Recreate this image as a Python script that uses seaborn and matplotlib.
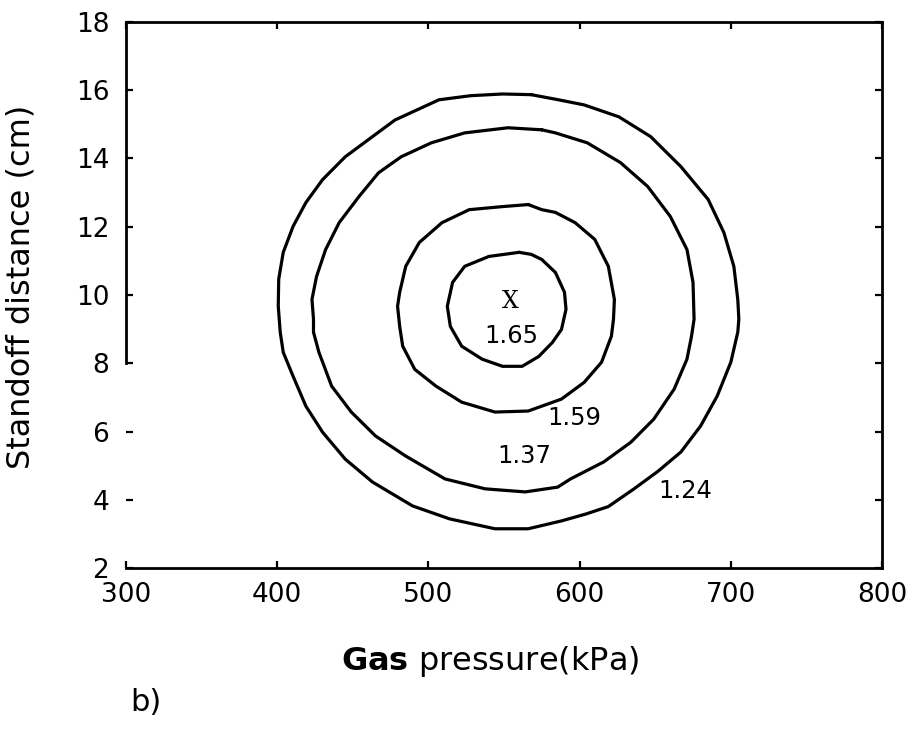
import numpy as np
import pandas as pd
import matplotlib
matplotlib.use("Agg")
import matplotlib.pyplot as plt
import seaborn as sns

# Iso-lines of the response over gas pressure (kPa) and standoff distance (cm)
levels = ["1.24", "1.37", "1.59", "1.65"]

p_124 = [568, 549, 528, 507, 478, 463, 445, 430, 419, 410.5, 404, 401, 400.7, 402, 404,
         410.5, 419, 430, 445, 463, 489.5, 514, 544, 566, 588, 604, 619, 636, 652, 667,
         680, 691, 700, 704.6, 705.3, 704.6, 702, 695.4, 685, 667, 647, 626, 603, 586]
d_124 = [15.87, 15.89, 15.84, 15.72, 15.13, 14.64, 14.05, 13.38, 12.71, 12.01, 11.25,
         10.46, 9.67, 8.91, 8.32, 7.62, 6.74, 5.98, 5.19, 4.52, 3.82, 3.44, 3.15, 3.15,
         3.38, 3.58, 3.80, 4.32, 4.84, 5.40, 6.16, 7.04, 8.03, 8.91, 9.29, 9.87, 10.84,
         11.83, 12.80, 13.76, 14.64, 15.22, 15.57, 15.72]

p_137 = [575, 552.6, 524, 502, 482, 467, 454, 441, 432, 426, 423, 424, 424, 427.6,
         436, 449, 465, 485, 511, 537.5, 564, 585.5, 594, 616, 634, 649, 662.5, 671,
         674, 675.7, 675, 671, 660, 645, 627, 605, 584]
d_137 = [14.84, 14.90, 14.75, 14.46, 14.05, 13.58, 12.88, 12.12, 11.33, 10.54, 9.87,
         9.29, 8.91, 8.32, 7.33, 6.57, 5.87, 5.28, 4.61, 4.32, 4.23, 4.37, 4.61, 5.11,
         5.69, 6.36, 7.24, 8.12, 8.79, 9.29, 10.37, 11.33, 12.30, 13.18, 13.88, 14.46,
         14.75]

p_159 = [566, 549, 527, 509, 494, 485, 481, 479.6, 481, 483, 491, 505, 522, 544, 566,
         588, 603, 614.5, 621, 622.4, 623, 619, 610, 597, 584, 575]
d_159 = [12.65, 12.59, 12.50, 12.12, 11.54, 10.84, 10.08, 9.67, 9.08, 8.50, 7.82, 7.33,
         6.86, 6.57, 6.60, 6.95, 7.44, 8.03, 8.79, 9.29, 9.87, 10.84, 11.63, 12.12,
         12.42, 12.50]

p_165 = [560, 540, 524, 516, 512.5, 514.5, 522, 535.5, 549, 562, 573, 582, 588, 591,
         590, 584, 575, 568]
d_165 = [11.25, 11.13, 10.84, 10.37, 9.67, 9.08, 8.50, 8.12, 7.91, 7.91, 8.20, 8.61,
         8.99, 9.58, 10.08, 10.66, 11.04, 11.19]

# Where each level value is written
label_p = [669.7, 563.6, 596.5, 554.6]
label_d = [4.27, 5.29, 6.41, 8.79]

# Optimum point
opt_p = 554
opt_d = 9.8

x_ticks = [300, 400, 500, 600, 700, 800]
y_ticks = [2, 4, 6, 8, 10, 12, 14, 16, 18]

curves = {"1.24": (p_124, d_124), "1.37": (p_137, d_137),
          "1.59": (p_159, d_159), "1.65": (p_165, d_165)}
rows = []
for lev in levels:
    ps, ds = curves[lev]
    ps = list(ps) + [ps[0]]
    ds = list(ds) + [ds[0]]
    for i, (p, d) in enumerate(zip(ps, ds)):
        rows.append({"pressure": p, "distance": d, "level": lev, "step": i})
df = pd.DataFrame(rows)

sns.set_theme(style="white")
plt.rcParams["font.family"] = ["DejaVu Sans"]
plt.rcParams["mathtext.fontset"] = "dejavusans"

fig = plt.figure(figsize=(9.11, 7.30), dpi=100)
ax = fig.add_axes([0.1383, 0.2219, 0.8299, 0.7480])

sns.lineplot(data=df, x="pressure", y="distance", units="level", estimator=None,
             sort=False, color="black", linewidth=2.3, ax=ax,
             solid_joinstyle="round", solid_capstyle="round")

for lev, lp, ld in zip(levels, label_p, label_d):
    ax.text(lp, ld, lev, ha="center", va="center", fontsize=17.5, color="black")

ax.text(opt_p, opt_d, "X", ha="center", va="center", fontsize=17,
        family="DejaVu Serif", color="black")

ax.set_xlim(300, 800)
ax.set_ylim(2, 18)
ax.set_xticks(x_ticks)
ax.set_yticks(y_ticks)
ax.set_xticklabels([str(v) for v in x_ticks])
ax.set_yticklabels([str(v) for v in y_ticks])

for side in ["left", "right", "top", "bottom"]:
    ax.spines[side].set_visible(True)
    ax.spines[side].set_color("black")
    ax.spines[side].set_linewidth(2.0)
ax.spines["left"].set_bounds(8, 18)

ax.tick_params(axis="both", which="major", direction="in", length=5, width=1.6,
               color="black", labelsize=19, labelcolor="black",
               top=True, right=True, left=True, bottom=True)
ax.tick_params(axis="y", pad=12)
ax.tick_params(axis="x", pad=10)

ax.set_xlabel(r"$\mathbf{Gas}$ pressure(kPa)", fontsize=23, color="black")
ax.set_ylabel("Standoff distance (cm)", fontsize=23, color="black")
ax.xaxis.set_label_coords(0.481, -0.14)
ax.yaxis.set_label_coords(-0.118, 0.515)

fig.text(130 / 911, 0.038, "b)", ha="left", va="center", fontsize=22, color="black")

fig.savefig("out.png", dpi=100)
